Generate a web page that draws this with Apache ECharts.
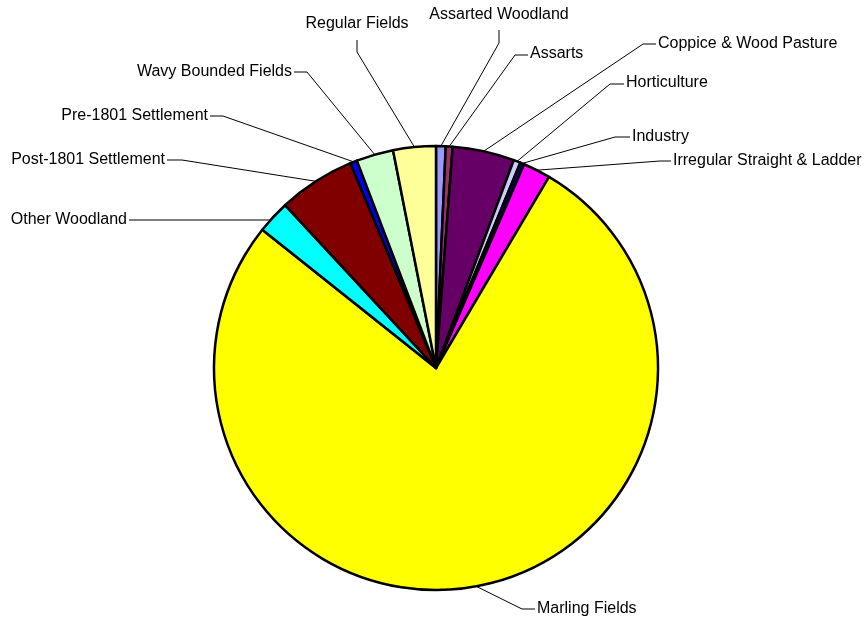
<!DOCTYPE html>
<html>
<head>
<meta charset="utf-8">
<script src="https://cdn.jsdelivr.net/npm/echarts@6/dist/echarts.min.js"></script>
<style>
  html, body { margin: 0; padding: 0; background: #fff; }
  #chart { width: 867px; height: 621px; }
</style>
</head>
<body>
<div id="chart"></div>
<script>
const categories = [
  'Assarted Woodland', 'Assarts', 'Coppice & Wood Pasture', 'Horticulture',
  'Industry', 'Irregular Straight & Ladder', 'Marling Fields', 'Other Woodland',
  'Post-1801 Settlement', 'Pre-1801 Settlement', 'Wavy Bounded Fields', 'Regular Fields'
]
const shares = [0.7, 0.5, 4.5, 0.5, 0.3, 2.0, 77.2, 2.4, 5.6, 0.5, 2.7, 3.1]
const sliceColors = [
  '#9999FF', '#993366', '#660066', '#CCCCFF', '#000080', '#FF00FF',
  '#FFFF00', '#00FFFF', '#800000', '#0000FF', '#CCFFCC', '#FFFF99'
]

// where each leader line bends / ends and where its text sits
const labelSpots = [
  { elbow: [499, 43], end: [499, 30], text: [499, 15], align: 'center' },
  { elbow: [515, 55], end: [528, 55], text: [530, 54], align: 'left' },
  { elbow: [643, 44], end: [656, 44], text: [658, 44], align: 'left' },
  { elbow: [610, 84], end: [624, 84], text: [626, 83], align: 'left' },
  { elbow: [615, 137], end: [630, 137], text: [632, 137], align: 'left' },
  { elbow: [660, 161], end: [671, 161], text: [673, 161], align: 'left' },
  { elbow: [522, 609], end: [535, 609], text: [537, 609], align: 'left' },
  { elbow: [270, 220], end: [129, 220], text: [127, 220], align: 'right' },
  { elbow: [182, 160], end: [167, 160], text: [165, 160], align: 'right' },
  { elbow: [223, 116], end: [210, 116], text: [208, 116], align: 'right' },
  { elbow: [307, 72], end: [294, 72], text: [292, 72], align: 'right' },
  { elbow: [357, 52], end: [357, 40], text: [357, 24], align: 'center' }
]

const chart = echarts.init(document.getElementById('chart'), null, { renderer: 'canvas' })

const option = {
  animation: false,
  backgroundColor: '#fff',
  series: [
    {
      type: 'pie',
      center: [436, 368],
      radius: 222,
      startAngle: 90,
      clockwise: true,
      avoidLabelOverlap: false,
      data: categories.map((name, i) => ({
        name: name,
        value: shares[i],
        itemStyle: { color: sliceColors[i] }
      })),
      itemStyle: {
        borderColor: '#000',
        borderWidth: 2.5
      },
      label: {
        show: true,
        position: 'outside',
        formatter: '{b}',
        color: '#000',
        fontFamily: 'Liberation Sans, Arial, sans-serif',
        fontSize: 16
      },
      labelLine: {
        show: true,
        lineStyle: { color: '#000', width: 1 }
      },
      labelLayout: function (params) {
        const s = labelSpots[params.dataIndex]
        const start = params.labelLinePoints ? params.labelLinePoints[0] : s.elbow
        return {
          x: s.text[0],
          y: s.text[1],
          align: s.align,
          verticalAlign: 'middle',
          labelLinePoints: [start, s.elbow, s.end]
        }
      },
      emphasis: { disabled: true }
    }
  ]
}

chart.setOption(option)
</script>
</body>
</html>
